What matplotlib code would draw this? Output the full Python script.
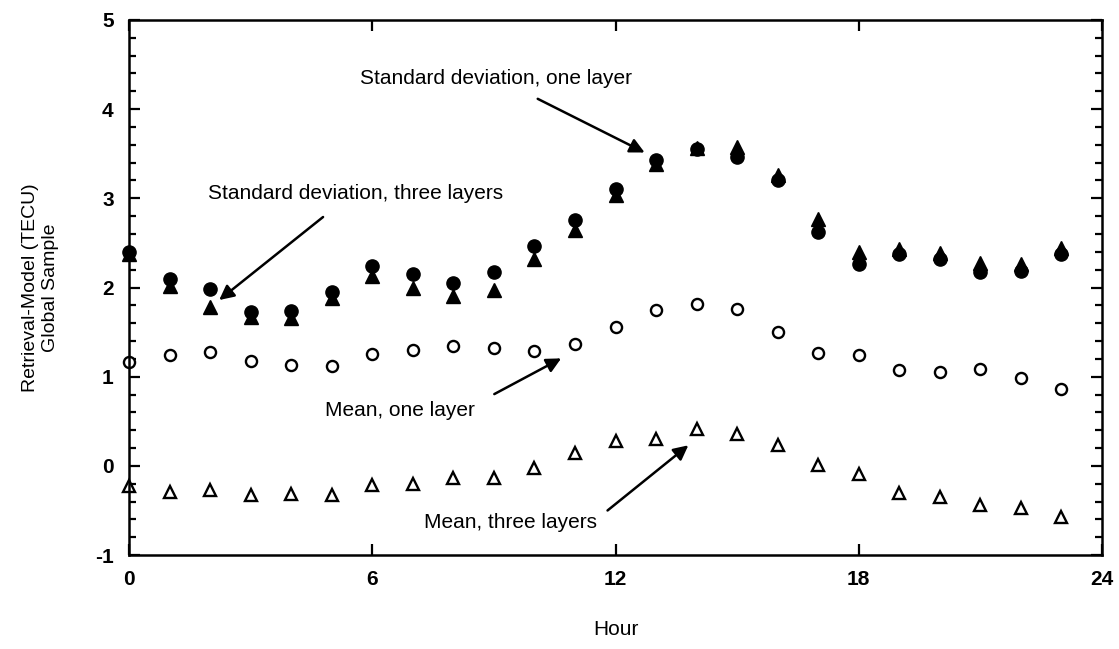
import numpy as np
import matplotlib.pyplot as plt
from matplotlib.ticker import MultipleLocator

plt.rcParams['font.family'] = ['Liberation Sans', 'DejaVu Sans']
plt.rcParams['axes.unicode_minus'] = False

# Données
hour = np.arange(24)

std_one = [2.40, 2.10, 1.98, 1.73, 1.74, 1.95, 2.24, 2.15, 2.05, 2.17, 2.47, 2.76,
           3.10, 3.43, 3.55, 3.46, 3.20, 2.62, 2.26, 2.38, 2.32, 2.17, 2.19, 2.38]
std_three = [2.38, 2.02, 1.78, 1.67, 1.66, 1.88, 2.13, 2.00, 1.91, 1.97, 2.32, 2.64,
             3.04, 3.38, 3.57, 3.58, 3.26, 2.77, 2.40, 2.43, 2.39, 2.27, 2.26, 2.44]
mean_one = [1.17, 1.24, 1.28, 1.18, 1.13, 1.12, 1.25, 1.30, 1.34, 1.32, 1.29, 1.37,
            1.56, 1.75, 1.82, 1.76, 1.50, 1.27, 1.24, 1.07, 1.05, 1.09, 0.99, 0.86]
mean_three = [-0.23, -0.29, -0.27, -0.33, -0.32, -0.33, -0.21, -0.20, -0.14, -0.14, -0.02, 0.14,
              0.28, 0.30, 0.41, 0.36, 0.23, 0.01, -0.09, -0.30, -0.35, -0.44, -0.47, -0.57]

x_ticks = [0, 6, 12, 18, 24]
y_ticks = [-1, 0, 1, 2, 3, 4, 5]

fig = plt.figure(figsize=(11.19, 6.49), dpi=100)
ax = fig.add_axes([0.1153, 0.1448, 0.8695, 0.8244])

ax.plot(hour, std_one, 'o', color='black', ms=9.5, clip_on=False)
ax.plot(hour, std_three, '^', color='black', ms=9.5, clip_on=False)
ax.plot(hour, mean_one, 'o', mfc='white', mec='black', mew=1.7, ms=8, clip_on=False)
ax.plot(hour, mean_three, '^', mfc='white', mec='black', mew=1.7, ms=8, clip_on=False)

ax.set_xlim(0, 24)
ax.set_ylim(-1, 5)
ax.set_xticks(x_ticks)
ax.set_yticks(y_ticks)
ax.yaxis.set_minor_locator(MultipleLocator(0.2))

for s in ax.spines.values():
    s.set_linewidth(1.8)
ax.tick_params(which='both', direction='in', top=True, right=True, width=1.6)
ax.tick_params(which='major', length=8, labelsize=15, pad=11)
ax.tick_params(which='minor', length=5)
for lab in ax.get_xticklabels() + ax.get_yticklabels():
    lab.set_fontweight('bold')

ax.set_xlabel('Hour', fontsize=15, labelpad=22)
ax.set_ylabel('Retrieval-Model (TECU)\nGlobal Sample', fontsize=14, labelpad=26)

# Annotations
arr = dict(arrowstyle='-|>', color='black', lw=1.8, mutation_scale=22)
ax.annotate('', xy=(12.78, 3.50), xytext=(10.02, 4.13), arrowprops=arr)
ax.text(9.04, 4.34, 'Standard deviation, one layer', fontsize=15, ha='center', va='center')

ax.annotate('', xy=(2.17, 1.84), xytext=(4.84, 2.81), arrowprops=arr)
ax.text(5.59, 3.05, 'Standard deviation, three layers', fontsize=15, ha='center', va='center')

ax.annotate('', xy=(10.72, 1.22), xytext=(8.95, 0.79), arrowprops=arr)
ax.text(6.69, 0.62, 'Mean, one layer', fontsize=15, ha='center', va='center')

ax.annotate('', xy=(13.85, 0.25), xytext=(11.75, -0.52), arrowprops=arr)
ax.text(9.41, -0.63, 'Mean, three layers', fontsize=15, ha='center', va='center')

plt.savefig('out.png', dpi=100)
